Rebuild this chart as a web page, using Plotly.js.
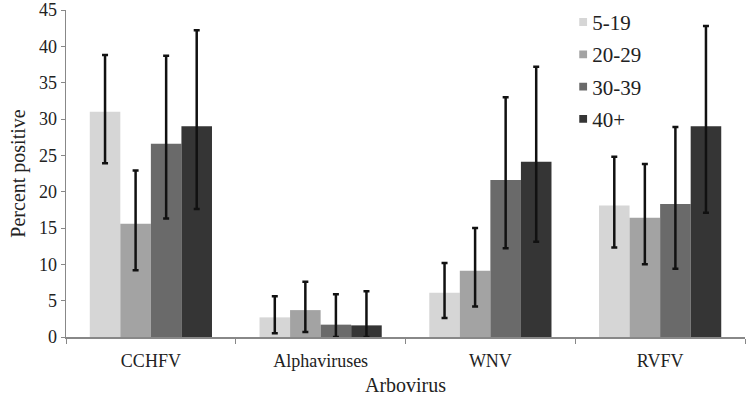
<!DOCTYPE html>
<html><head><meta charset="utf-8">
<script src="https://cdn.plot.ly/plotly-3.0.1.min.js"></script>
<style>body{margin:0;background:#fff}#chart{width:750px;height:400px}</style>
</head><body><div id="chart"></div>
<script>
const categories = ["CCHFV", "Alphaviruses", "WNV", "RVFV"];
const seriesNames = ["5-19", "20-29", "30-39", "40+"];
const values_5_19  = [31.0, 2.7, 6.1, 18.1];
const values_20_29 = [15.6, 3.7, 9.1, 16.4];
const values_30_39 = [26.6, 1.7, 21.6, 18.3];
const values_40p   = [29.0, 1.6, 24.1, 29.0];
const upper_5_19  = [38.8, 5.6, 10.2, 24.8];
const upper_20_29 = [22.9, 7.6, 15.0, 23.8];
const upper_30_39 = [38.7, 5.9, 33.0, 28.9];
const upper_40p   = [42.2, 6.3, 37.2, 42.8];
const lower_5_19  = [23.9, 0.5, 2.6, 12.3];
const lower_20_29 = [9.2, 0.7, 4.2, 10.0];
const lower_30_39 = [16.3, 0.0, 12.2, 9.4];
const lower_40p   = [17.6, 0.0, 13.1, 17.1];
const yTicks = [0, 5, 10, 15, 20, 25, 30, 35, 40, 45];
const colors = ["#d6d6d6", "#a3a3a3", "#6a6a6a", "#353535"];

const vals = [values_5_19, values_20_29, values_30_39, values_40p];
const ups = [upper_5_19, upper_20_29, upper_30_39, upper_40p];
const lows = [lower_5_19, lower_20_29, lower_30_39, lower_40p];

const traces = seriesNames.map((name, i) => ({
  type: "bar", name: name, x: categories, y: vals[i],
  legendgroup: "g" + i,
  marker: {color: colors[i], line: {width: 0}},
  error_y: {
    type: "data", symmetric: false,
    array: ups[i].map((u, k) => u - vals[i][k]),
    arrayminus: lows[i].map((l, k) => vals[i][k] - l),
    color: "#111", thickness: 2.5, width: 3
  }
}));

const serif = "Liberation Serif, Times New Roman, serif";
const layout = {
  width: 750, height: 400,
  margin: {l: 66, r: 5, t: 10, b: 63, autoexpand: false},
  paper_bgcolor: "#fff", plot_bgcolor: "#fff",
  barmode: "group", bargap: 0.28, bargroupgap: 0,
  font: {family: serif, color: "#222", size: 18},
  showlegend: true,
  legend: {x: 0.716, y: 1.025, xanchor: "left", yanchor: "top",
           font: {family: serif, size: 21, color: "#222"},
           traceorder: "grouped", tracegroupgap: 2, itemwidth: 30,
           bgcolor: "rgba(0,0,0,0)"},
  xaxis: {
    type: "category", showline: true, linecolor: "#888", linewidth: 1.5,
    ticks: "outside", tickson: "boundaries", ticklen: 5, tickcolor: "#888",
    ticklabelstandoff: 7,
    tickfont: {family: serif, size: 18, color: "#222"},
    title: {text: "Arbovirus", font: {family: serif, size: 20, color: "#222"}, standoff: 8},
    showgrid: false, zeroline: false
  },
  yaxis: {
    range: [0, 45], tickvals: yTicks, ticktext: yTicks.map(String),
    ticklabeloverflow: "allow",
    showline: true, linecolor: "#888", linewidth: 1.5,
    ticks: "outside", ticklen: 4, tickcolor: "#888",
    tickfont: {family: serif, size: 18, color: "#222"},
    title: {text: "Percent positive", font: {family: serif, size: 20, color: "#222"}, standoff: 8},
    showgrid: false, zeroline: false
  }
};
Plotly.newPlot("chart", traces, layout, {displayModeBar: false, staticPlot: true}).then(() => {
  document.querySelectorAll(".legendpoints path").forEach(p => {
    p.setAttribute("transform", "translate(31,0) scale(0.65)");
  });
});
</script></body></html>
